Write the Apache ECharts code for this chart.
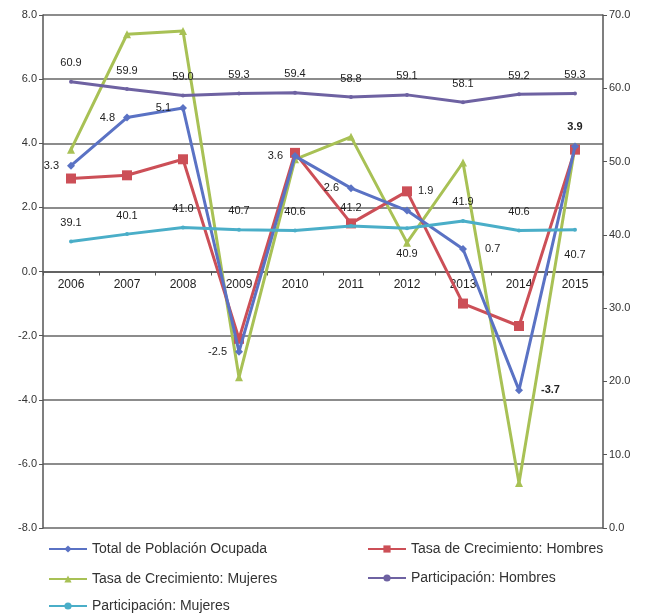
<!DOCTYPE html>
<html>
<head>
<meta charset="utf-8">
<script src="https://cdn.jsdelivr.net/npm/echarts@6/dist/echarts.min.js"></script>
<style>
  html, body { margin: 0; padding: 0; background: #fff; }
  #chart { width: 650px; height: 615px; }
</style>
</head>
<body>
<div id="chart"></div>
<script>
// Años
const years = ['2006', '2007', '2008', '2009', '2010', '2011', '2012', '2013', '2014', '2015'];

// Tasas de crecimiento (%), eje izquierdo
const totalOcupada = [3.3, 4.8, 5.1, -2.5, 3.6, 2.6, 1.9, 0.7, -3.7, 3.9];
const tasaHombres  = [2.9, 3.0, 3.5, -2.1, 3.7, 1.5, 2.5, -1.0, -1.7, 3.8];
const tasaMujeres  = [3.8, 7.4, 7.5, -3.3, 3.5, 4.2, 0.9, 3.4, -6.6, 3.9];

// Participación (%), eje derecho
const partHombres = [60.9, 59.9, 59.0, 59.3, 59.4, 58.8, 59.1, 58.1, 59.2, 59.3];
const partMujeres = [39.1, 40.1, 41.0, 40.7, 40.6, 41.2, 40.9, 41.9, 40.6, 40.7];

// Ticks de los ejes
const leftTicks = { min: -8, max: 8, interval: 2 };
const rightTicks = { min: 0, max: 70, interval: 10 };

// Posición de las etiquetas de cada punto
const totalLabelPos = ['left', 'left', 'left', 'left', 'left', 'left', 'upperRight', 'right', 'right', 'top'];
const totalLabelBold = [false, false, false, false, false, false, false, false, true, true];
const mujeresLabelPos = ['top', 'top', 'top', 'top', 'top', 'top', 'bottom', 'top', 'top', 'bottom'];

const FONT = '"Liberation Sans", Arial, sans-serif';
const fmt1 = v => Number(v).toFixed(1);

const C_TOTAL = '#5a72c4';
const C_HOM = '#cc4f57';
const C_MUJ = '#a8c155';
const C_PH = '#6e62a2';
const C_PM = '#4aaec8';

const labelBase = { show: true, fontFamily: FONT, fontSize: 11, color: '#222', formatter: p => fmt1(p.value) };

const totalData = totalOcupada.map((v, i) => {
  const pos = totalLabelPos[i];
  const label = { fontWeight: totalLabelBold[i] ? 'bold' : 'normal' };
  if (pos === 'upperRight') {
    Object.assign(label, { position: 'right', offset: [2, -20] });
  } else {
    label.position = pos;
    label.distance = pos === 'left' ? 8 : pos === 'right' ? 18 : 10;
  }
  return { value: v, label: label };
});

const mujData = partMujeres.map((v, i) => ({
  value: v,
  label: { position: mujeresLabelPos[i], distance: mujeresLabelPos[i] === 'bottom' ? 18 : 11 }
}));

const chart = echarts.init(document.getElementById('chart'), null, { renderer: 'canvas' });

const legendItem = (name, left, top) => ({
  data: [name], left: left, top: top, orient: 'horizontal', padding: 0,
  itemWidth: 38, itemHeight: 9, itemGap: 4,
  textStyle: { fontFamily: FONT, fontSize: 14, color: '#333' },
  selectedMode: false
});

chart.setOption({
  animation: false,
  backgroundColor: '#ffffff',
  grid: { left: 43, right: 47, top: 15, bottom: 87, containLabel: false },
  legend: [
    legendItem('Total de Población Ocupada', 48, 542),
    legendItem('Tasa de Crecimiento: Hombres', 367, 542),
    legendItem('Tasa de Crecimiento: Mujeres', 48, 572),
    legendItem('Participación: Hombres', 367, 571),
    legendItem('Participación: Mujeres', 48, 599)
  ],
  xAxis: {
    type: 'category',
    data: years,
    boundaryGap: true,
    position: 'bottom',
    // el eje de categorías se dibuja sobre la línea del 0 del eje izquierdo
    offset: -256.5,
    axisLine: { show: true, onZero: false, lineStyle: { color: '#555', width: 1.5 } },
    axisTick: { show: true, length: 4, lineStyle: { color: '#555' } },
    axisLabel: { fontFamily: FONT, fontSize: 12, color: '#222', margin: 7 },
    splitLine: { show: false }
  },
  yAxis: [
    {
      type: 'value', position: 'left',
      min: leftTicks.min, max: leftTicks.max, interval: leftTicks.interval,
      axisLine: { show: true, lineStyle: { color: '#555', width: 1.5 } },
      axisTick: { show: true, length: 4, lineStyle: { color: '#555' } },
      axisLabel: { fontFamily: FONT, fontSize: 11, color: '#333', margin: 6, formatter: fmt1 },
      splitLine: { show: true, lineStyle: { color: '#666', width: 1.5 } }
    },
    {
      type: 'value', position: 'right',
      min: rightTicks.min, max: rightTicks.max, interval: rightTicks.interval,
      axisLine: { show: true, lineStyle: { color: '#555', width: 1.5 } },
      axisTick: { show: true, length: 4, lineStyle: { color: '#555' } },
      axisLabel: { fontFamily: FONT, fontSize: 11, color: '#333', margin: 6, formatter: fmt1 },
      splitLine: { show: false }
    }
  ],
  series: [
    {
      name: 'Total de Población Ocupada', type: 'line', yAxisIndex: 0,
      data: totalData,
      symbol: 'diamond', symbolSize: 8,
      lineStyle: { color: C_TOTAL, width: 3 },
      itemStyle: { color: C_TOTAL },
      label: labelBase, z: 5
    },
    {
      name: 'Tasa de Crecimiento: Hombres', type: 'line', yAxisIndex: 0,
      data: tasaHombres,
      symbol: 'rect', symbolSize: 10,
      lineStyle: { color: C_HOM, width: 3 },
      itemStyle: { color: C_HOM },
      z: 4
    },
    {
      name: 'Tasa de Crecimiento: Mujeres', type: 'line', yAxisIndex: 0,
      data: tasaMujeres,
      symbol: 'triangle', symbolSize: 8,
      lineStyle: { color: C_MUJ, width: 3 },
      itemStyle: { color: C_MUJ },
      z: 3
    },
    {
      name: 'Participación: Hombres', type: 'line', yAxisIndex: 1,
      data: partHombres,
      symbol: 'circle', symbolSize: 4,
      lineStyle: { color: C_PH, width: 3 },
      itemStyle: { color: C_PH },
      label: Object.assign({}, labelBase, { position: 'top', distance: 11 }),
      z: 6
    },
    {
      name: 'Participación: Mujeres', type: 'line', yAxisIndex: 1,
      data: mujData,
      symbol: 'circle', symbolSize: 4,
      lineStyle: { color: C_PM, width: 3 },
      itemStyle: { color: C_PM },
      label: labelBase,
      z: 6
    }
  ]
});
</script>
</body>
</html>
